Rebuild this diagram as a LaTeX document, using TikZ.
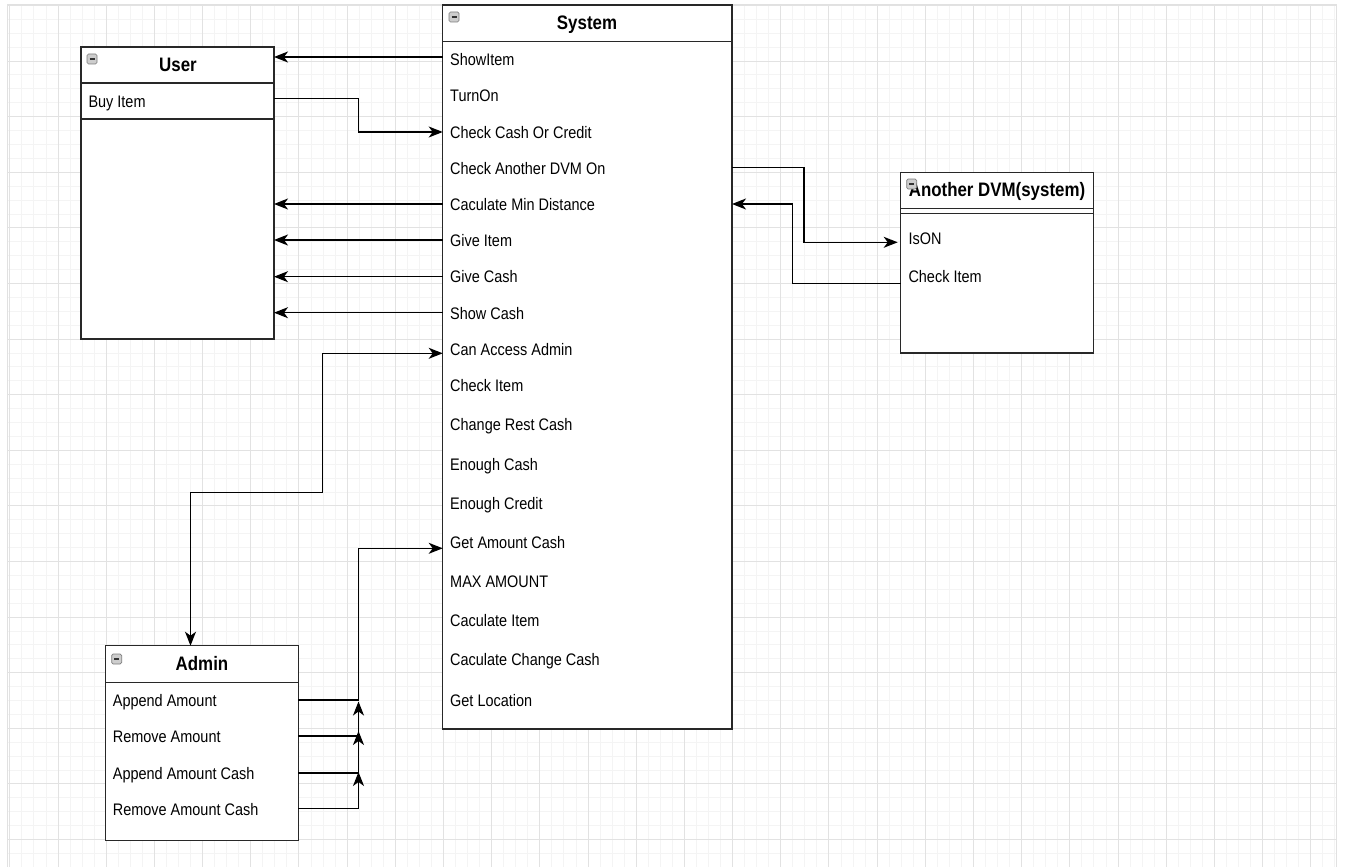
\documentclass[tikz,border=0pt]{standalone}
\usepackage{fontspec}
\setmainfont{Liberation Sans}[FakeStretch=0.866]
\usetikzlibrary{arrows.meta}
\definecolor{gridminor}{RGB}{244,244,244}
\definecolor{gridmajor}{RGB}{226,226,226}
\definecolor{canvasline}{RGB}{225,225,225}
\definecolor{boxline}{RGB}{40,40,40}
\definecolor{iconfill}{RGB}{205,205,205}
\definecolor{iconline}{RGB}{125,125,125}
\tikzset{
  box/.style={draw=boxline, fill=white, line width=1.4pt, inner sep=0pt, outer sep=0pt, anchor=north west},
  sepline/.style={draw=boxline, line width=1.4pt},
  item/.style={anchor=base west, inner sep=0pt, font=\fontsize{16.7}{20}\selectfont},
  title/.style={anchor=base, inner sep=0pt, font=\fontsize{19.5}{22}\selectfont\bfseries},
  tip/.tip={Stealth[length=14pt,width=11pt,inset=4pt]},
  arr/.style={draw=black, line width=1.4pt, -tip},
  arrboth/.style={draw=black, line width=1.4pt, tip-tip},
  minusicon/.pic={
    \draw[iconline, fill=iconfill, rounded corners=1.5pt, line width=0.7pt] (0,0) rectangle (10,10);
    \draw[black!80, line width=1.6pt] (2.5,5) -- (7.5,5);
  }
}
\begin{document}
\begin{tikzpicture}[x=1pt,y=-1pt]
\useasboundingbox (0,0) rectangle (1345,867);
\fill[white] (0,0) rectangle (1345,867);
% grid
\foreach \i in {0,...,110} {\draw[gridminor, line width=0.8pt] ({9.8+12.045*\i},5) -- ({9.8+12.045*\i},867);}
\foreach \j in {0,...,62} {\draw[gridminor, line width=0.8pt] (8,{5.4+13.9*\j}) -- (1336,{5.4+13.9*\j});}
\foreach \i in {0,...,27} {\draw[gridmajor, line width=0.9pt] ({9.8+48.18*\i},5) -- ({9.8+48.18*\i},867);}
\foreach \j in {0,...,15} {\draw[gridmajor, line width=0.9pt] (8,{5.4+55.6*\j}) -- (1336,{5.4+55.6*\j});}
\draw[canvasline, line width=1pt] (7.5,868) -- (7.5,4.5) -- (1336,4.5) -- (1336,868);

% ---------- User ----------
\node[box, minimum width=193pt, minimum height=292pt] (user) at (81,47) {};
\draw[sepline] (user.west |- 0,83) -- (user.east |- 0,83);
\draw[sepline] (user.west |- 0,119) -- (user.east |- 0,119);
\node[title] (usertitle) at (178,71.3) {User};
\node[item] (buy) at (88.3,107.3) {Buy Item};
\pic at (87,54) {minusicon};

% ---------- System ----------
\node[box, minimum width=289.3pt, minimum height=724pt] (sys) at (442.7,5) {};
\draw[sepline] (sys.west |- 0,41.3) -- (sys.east |- 0,41.3);
\node[title] (systitle) at (587,30) {System};
\pic at (449,12) {minusicon};
\node[item] (s1)  at (450,65.7)  {ShowItem};
\node[item] (s2)  at (450,102)   {TurnOn};
\node[item] (s3)  at (450,138)   {Check Cash Or Credit};
\node[item] (s4)  at (450,174)   {Check Another DVM On};
\node[item] (s5)  at (450,210.3) {Caculate Min Distance};
\node[item] (s6)  at (450,246.7) {Give Item};
\node[item] (s7)  at (450,282.7) {Give Cash};
\node[item] (s8)  at (450,319)   {Show Cash};
\node[item] (s9)  at (450,355.3) {Can Access Admin};
\node[item] (s10) at (450,391.7) {Check Item};
\node[item] (s11) at (450,430.7) {Change Rest Cash};
\node[item] (s12) at (450,470)   {Enough Cash};
\node[item] (s13) at (450,509)   {Enough Credit};
\node[item] (s14) at (450,548)   {Get Amount Cash};
\node[item] (s15) at (450,587)   {MAX AMOUNT};
\node[item] (s16) at (450,626)   {Caculate Item};
\node[item] (s17) at (450,665)   {Caculate Change Cash};
\node[item] (s18) at (450,706.7) {Get Location};

% ---------- Another DVM ----------
\node[box, minimum width=192.6pt, minimum height=180.7pt] (dvm) at (900.7,172.3) {};
\draw[sepline] (dvm.west |- 0,208.7) -- (dvm.east |- 0,208.7);
\draw[sepline] (dvm.west |- 0,213.7) -- (dvm.east |- 0,213.7);
\node[title] (dvmtitle) at (997,196.7) {Another DVM(system)};
\pic at (906.7,179) {minusicon};
\node[item] (d1) at (908.3,244.3) {IsON};
\node[item] (d2) at (908.3,282.7) {Check Item};

% ---------- Admin ----------
\node[box, minimum width=192.6pt, minimum height=195pt] (admin) at (105.7,645.7) {};
\draw[sepline] (admin.west |- 0,682.3) -- (admin.east |- 0,682.3);
\node[title] (admintitle) at (202,670) {Admin};
\pic at (111.7,654) {minusicon};
\node[item] (a1) at (112.7,706.7) {Append Amount};
\node[item] (a2) at (112.7,742.7) {Remove Amount};
\node[item] (a3) at (112.7,779)   {Append Amount Cash};
\node[item] (a4) at (112.7,815)   {Remove Amount Cash};

% ---------- row ports ----------
\coordinate (rShow) at (0,57);
\coordinate (rBuy) at (0,98.3);
\coordinate (rCash) at (0,132);
\coordinate (rDvm) at (0,167.7);
\coordinate (rMin) at (0,204);
\coordinate (rGive) at (0,240);
\coordinate (rGiveCash) at (0,276.7);
\coordinate (rShowCash) at (0,312.7);
\coordinate (rAccess) at (0,353.3);
\coordinate (rGet) at (0,548.3);
\coordinate (rIsOn) at (0,242.3);
\coordinate (rChk) at (0,283.7);
\coordinate (rA1) at (0,700);
\coordinate (rA2) at (0,736);
\coordinate (rA3) at (0,773);
\coordinate (rA4) at (0,808.3);

% ---------- connectors ----------
\draw[arr] (sys.west |- rShow) -- (user.east |- rShow);
\draw[arr] (user.east |- rBuy) -- (358.3,98.3) -- (358.3,132) -- (sys.west |- rCash);
\draw[arr] (sys.west |- rMin) -- (user.east |- rMin);
\draw[arr] (sys.west |- rGive) -- (user.east |- rGive);
\draw[arr] (sys.west |- rGiveCash) -- (user.east |- rGiveCash);
\draw[arr] (sys.west |- rShowCash) -- (user.east |- rShowCash);

\draw[arr, shorten >=3pt] (sys.east |- rDvm) -- (804,167.7) -- (804,242.3) -- (dvm.west |- rIsOn);
\draw[arr] (dvm.west |- rChk) -- (792.3,283.7) -- (792.3,204) -- (sys.east |- rMin);

\draw[arrboth] (190.5,645.7) -- (190.5,492.7) -- (322.3,492.7) -- (322.3,353.3) -- (sys.west |- rAccess);
\draw[arr] (admin.east |- rA1) -- (358.5,700) -- (358.5,548.3) -- (sys.west |- rGet);
\draw[arr] (admin.east |- rA2) -- (358.5,736) -- (358.5,701.5);
\draw[arr] (admin.east |- rA3) -- (358.5,773) -- (358.5,731);
\draw[arr] (admin.east |- rA4) -- (358.5,808.3) -- (358.5,772);
\end{tikzpicture}
\end{document}
